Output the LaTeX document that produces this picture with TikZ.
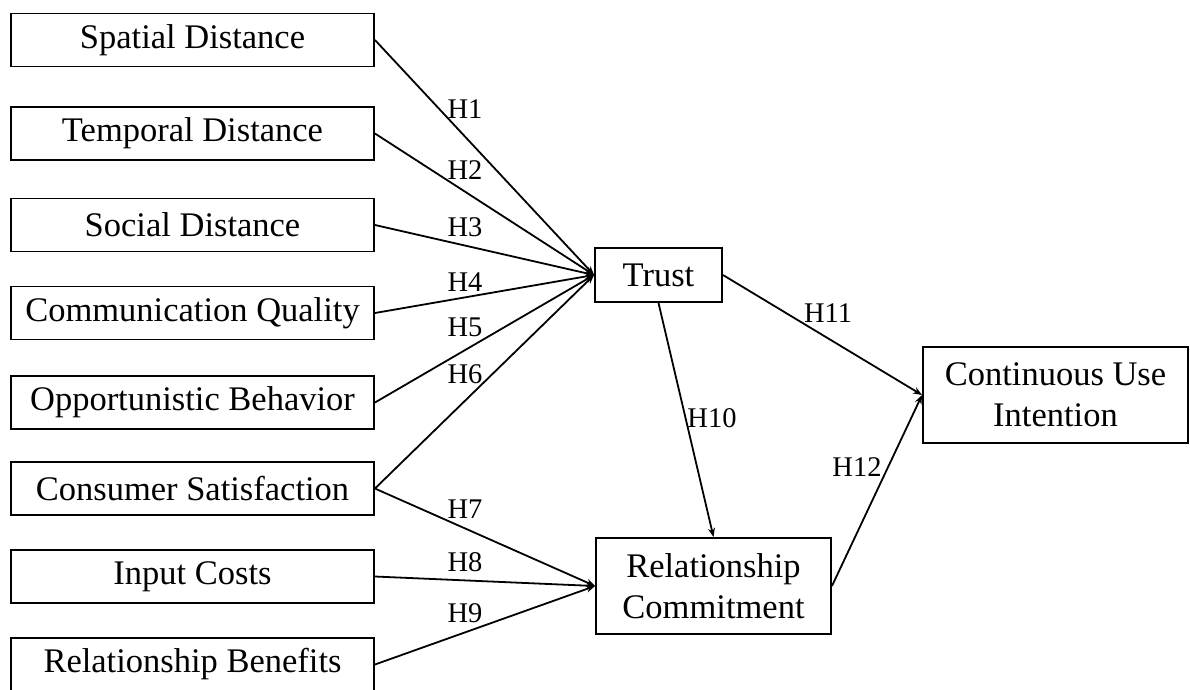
\documentclass[tikz,border=0pt]{standalone}
\usepackage{fontspec}
\setmainfont{Liberation Serif}
\usetikzlibrary{arrows.meta}
\begin{document}
\begin{tikzpicture}[x=1pt,y=-1pt,
  box/.style={draw=black, line width=1.9pt, rectangle, inner sep=0pt, align=center,
              font=\fontsize{34.5}{41}\selectfont, fill=white},
  leftbox/.style={box, minimum width=363pt, minimum height=53pt},
  arr/.style={line width=1.8pt, -{Stealth[length=9pt,width=7pt]}},
  hyp/.style={font=\fontsize{28.5}{30}\selectfont, inner sep=0pt}]
\useasboundingbox (0,0) rectangle (1190,689);
% left column
\node[leftbox] (sd) at (192.5,40)   {Spatial Distance};
\node[leftbox] (td) at (192.5,133.5){Temporal Distance};
\node[leftbox] (so) at (192.5,225)  {Social Distance};
\node[leftbox] (cq) at (192.5,313)  {Communication Quality};
\node[leftbox] (ob) at (192.5,402.5){Opportunistic Behavior};
\node[leftbox] (cs) at (192.5,488.5){Consumer Satisfaction};
\node[leftbox] (ic) at (192.5,576.5){Input Costs};
\node[leftbox] (rb) at (192.5,664.5){Relationship Benefits};
% middle and right
\node[box, minimum width=127pt, minimum height=54pt] (tr) at (658.5,275) {Trust};
\node[box, minimum width=235pt, minimum height=96pt] (rc) at (713.5,586) {Relationship\\Commitment};
\node[box, minimum width=265pt, minimum height=96pt] (cu) at (1055.5,395) {Continuous Use\\Intention};
% connectors
\draw[arr] (sd.east) -- (tr.west);
\draw[arr] (td.east) -- (tr.west);
\draw[arr] (so.east) -- (tr.west);
\draw[arr] (cq.east) -- (tr.west);
\draw[arr] (ob.east) -- (tr.west);
\draw[arr] (cs.east) -- (tr.west);
\draw[arr] (cs.east) -- (rc.west);
\draw[arr] (ic.east) -- (rc.west);
\draw[arr] (rb.east) -- (rc.west);
\draw[arr] (tr.south) -- (rc.north);
\draw[arr] (tr.east) -- (cu.west);
\draw[arr] (rc.east) -- (cu.west);
% hypothesis labels
\node[hyp] (h1) at (465,109) {H1};
\node[hyp] (h2) at (465,170) {H2};
\node[hyp] (h3) at (465,227) {H3};
\node[hyp] (h4) at (465,282) {H4};
\node[hyp] (h5) at (465,327) {H5};
\node[hyp] (h6) at (465,374) {H6};
\node[hyp] (h7) at (465,509) {H7};
\node[hyp] (h8) at (465,562) {H8};
\node[hyp] (h9) at (465,613) {H9};
\node[hyp] (h10) at (712,418) {H10};
\node[hyp] (h11) at (828,313) {H11};
\node[hyp] (h12) at (857,467) {H12};
\end{tikzpicture}
\end{document}
